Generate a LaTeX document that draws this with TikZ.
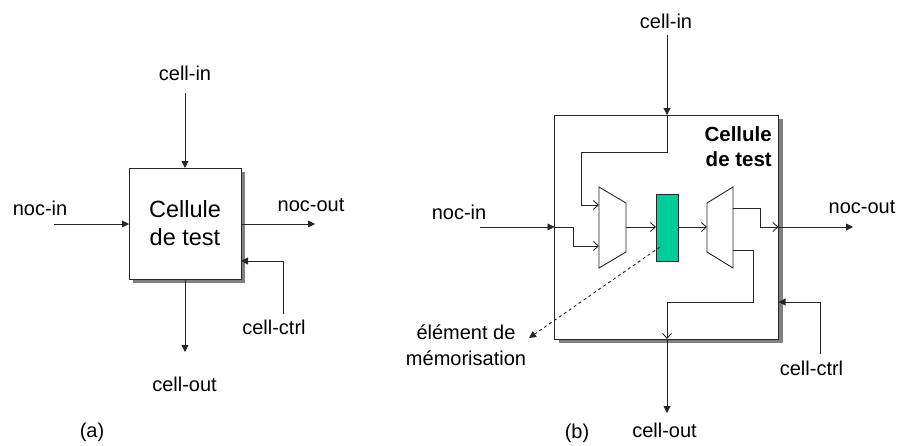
\documentclass[tikz,border=0pt]{standalone}
\usepackage{fontspec}
\setmainfont{Liberation Sans}
\usepackage{xcolor}
\usetikzlibrary{positioning,arrows.meta}
\definecolor{memcol}{HTML}{00CC99}
\definecolor{shadowcol}{HTML}{808080}
\definecolor{wirecol}{HTML}{262626}
\tikzset{
  lbl/.style={font=\fontsize{20}{26}\selectfont, text=black, inner sep=0pt, align=center},
  cellbox/.style={draw=wirecol, fill=white, line width=1pt, inner sep=0pt, outer sep=0pt},
  shadowbox/.style={fill=shadowcol, draw=none, inner sep=0pt, outer sep=0pt},
  muxshape/.style={draw=wirecol, fill=white, line width=0.9pt},
  wire/.style={draw=wirecol, line width=0.9pt},
  solidtip/.style={wire, -{Triangle[length=7pt,width=7pt]}},
  opentip/.style={wire, -{Straight Barb[length=5pt,width=9pt]}},
}
\begin{document}
\begin{tikzpicture}[x=1pt,y=-1pt]
\useasboundingbox (0,0) rectangle (900,445);
% figure (a)
\node[shadowbox, minimum width=112pt, minimum height=111pt] (shadowa) at (189,227.5) {};
\node[cellbox, minimum width=112pt, minimum height=111pt, font=\fontsize{23.5}{28}\selectfont, align=center] (boxa) at (185,223.5) {Cellule\\de test};
\coordinate (cellina) at (185,93);
\coordinate (nocina) at (54,224);
\coordinate (nocouta) at (315,224);
\coordinate (cellouta) at (185,352);
\coordinate (ctrlstarta) at (283,314);
\coordinate (ctrlbenda) at (283,261);
\draw[solidtip] (cellina) -- (boxa.north -| cellina);
\draw[solidtip] (nocina) -- (boxa.west |- nocina);
\draw[solidtip] (boxa.east |- nocouta) -- (nocouta);
\draw[solidtip] (boxa.south -| cellouta) -- (cellouta);
\draw[solidtip] (ctrlstarta) -- (ctrlbenda) -- (boxa.east |- ctrlbenda);
\node[lbl] (lblcellina) at (185,73) {cell-in};
\node[lbl] (lblnocina) at (40,208) {noc-in};
\node[lbl] (lblnocouta) at (311,205) {noc-out};
\node[lbl] (lblctrla) at (274,327) {cell-ctrl};
\node[lbl] (lblcellouta) at (184.5,384) {cell-out};
\node[lbl] (lbla) at (92,432) {(a)};
% figure (b)
\node[shadowbox, minimum width=224pt, minimum height=224pt] (shadowb) at (670.5,231) {};
\node[cellbox, minimum width=224pt, minimum height=224pt] (boxb) at (666.5,227) {};
\draw[muxshape] (599,187) -- (626,203) -- (626,252) -- (599,268) -- cycle;
\draw[muxshape] (733,187) -- (707,203) -- (707,252) -- (733,268) -- cycle;
\coordinate (muxain) at (599,227);
\coordinate (muxaout) at (626,227);
\coordinate (muxbin) at (707,227);
\coordinate (muxbout) at (733,227);
\node[draw=wirecol, fill=memcol, line width=1pt, minimum width=22pt, minimum height=67pt, inner sep=0pt, outer sep=0pt] (mem) at (667,227.5) {};
\coordinate (cellinb) at (667,35);
\coordinate (nocinb) at (480,227);
\coordinate (nocoutb) at (853,227);
\coordinate (celloutb) at (667,413);
\coordinate (ctrlstartb) at (820,354);
\coordinate (ctrlbendb) at (820,302);
\coordinate (topbenda) at (667,152);
\coordinate (topbendb) at (581,152);
\coordinate (topbendc) at (581,205);
\coordinate (nocbenda) at (573,227);
\coordinate (nocbendb) at (573,246);
\coordinate (outbenda) at (760,208);
\coordinate (outbendb) at (760,227);
\coordinate (lowbenda) at (753,250);
\coordinate (lowbendb) at (753,302);
\coordinate (lowbendc) at (667,302);
\coordinate (memnote) at (660,247);
\coordinate (noteend) at (529,338);
\draw[solidtip] (cellinb) -- (boxb.north -| cellinb);
\draw[wire] (boxb.north -| cellinb) -- (topbenda) -- (topbendb) -- (topbendc);
\draw[opentip] (topbendc) -- (muxain |- topbendc);
\draw[solidtip] (nocinb) -- (boxb.west |- nocinb);
\draw[wire] (boxb.west |- nocinb) -- (nocbenda) -- (nocbendb);
\draw[opentip] (nocbendb) -- (muxain |- nocbendb);
\draw[opentip] (muxaout) -- (mem.west |- muxaout);
\draw[opentip] (mem.east |- muxbin) -- (muxbin);
\draw[wire] (muxbout |- outbenda) -- (outbenda) -- (outbendb);
\draw[opentip] (outbendb) -- (boxb.east |- outbendb);
\draw[solidtip] (boxb.east |- nocoutb) -- (nocoutb);
\draw[wire] (muxbout |- lowbenda) -- (lowbenda) -- (lowbendb) -- (lowbendc);
\draw[opentip] (lowbendc) -- (boxb.south -| lowbendc);
\draw[solidtip] (boxb.south -| celloutb) -- (celloutb);
\draw[solidtip] (ctrlstartb) -- (ctrlbendb) -- (boxb.east |- ctrlbendb);
\draw[solidtip, dashed] (memnote) -- (noteend);
\node[font=\fontsize{20.5}{25}\selectfont\bfseries, inner sep=0pt, align=right, anchor=east] (titleb) at (772,146.5) {Cellule\\de test};
\node[lbl] (lblcellinb) at (666,21) {cell-in};
\node[lbl] (lblnocinb) at (459,212) {noc-in};
\node[lbl] (lblnocoutb) at (862,207) {noc-out};
\node[lbl] (lblctrlb) at (811.5,368) {cell-ctrl};
\node[lbl] (lblcelloutb) at (664.5,430) {cell-out};
\node[lbl] (lblb) at (577,433) {(b)};
\node[lbl] (lblmem) at (466,345) {élément de\\mémorisation};
\end{tikzpicture}
\end{document}
